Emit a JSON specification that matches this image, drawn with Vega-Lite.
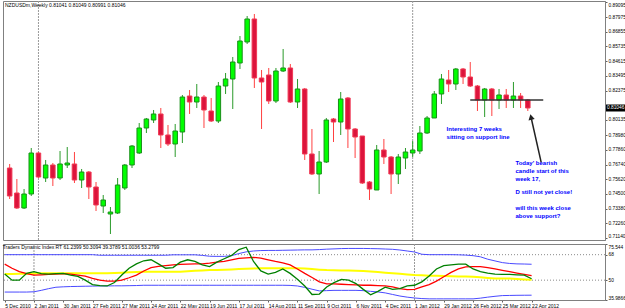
{
  "$schema": "https://vega.github.io/schema/vega-lite/v6.json",
  "padding": 0,
  "spacing": 2,
  "background": "white",
  "config": {
    "font": "Liberation Sans",
    "view": {"stroke": "#808080", "strokeWidth": 1},
    "title": {"font": "Liberation Sans", "fontWeight": "normal", "color": "#000000", "fontSize": 5},
    "axis": {"labelOverlap": false, "labelSeparation": 0, "labelBound": false, "labelFont": "Liberation Sans", "tickCount": 200}
  },
  "resolve": {"scale": {"x": "independent"}},
  "datasets": {
    "candles": [
      {"date": "2010-12-05", "open": 0.76474, "high": 0.76779, "low": 0.74112, "close": 0.74340},
      {"date": "2010-12-12", "open": 0.74569, "high": 0.75636, "low": 0.73350, "close": 0.73426},
      {"date": "2010-12-19", "open": 0.73426, "high": 0.74874, "low": 0.73350, "close": 0.74493},
      {"date": "2010-12-26", "open": 0.74493, "high": 0.77998, "low": 0.74340, "close": 0.77617},
      {"date": "2011-01-02", "open": 0.77617, "high": 0.77693, "low": 0.75712, "close": 0.75788},
      {"date": "2011-01-09", "open": 0.75712, "high": 0.77084, "low": 0.75407, "close": 0.76703},
      {"date": "2011-01-16", "open": 0.76703, "high": 0.76855, "low": 0.75102, "close": 0.75712},
      {"date": "2011-01-23", "open": 0.75712, "high": 0.77769, "low": 0.75560, "close": 0.76779},
      {"date": "2011-01-30", "open": 0.76703, "high": 0.78074, "low": 0.76474, "close": 0.76855},
      {"date": "2011-02-06", "open": 0.76779, "high": 0.77693, "low": 0.75331, "close": 0.75560},
      {"date": "2011-02-13", "open": 0.75560, "high": 0.76398, "low": 0.74950, "close": 0.76169},
      {"date": "2011-02-20", "open": 0.76169, "high": 0.76245, "low": 0.74112, "close": 0.75026},
      {"date": "2011-02-27", "open": 0.75026, "high": 0.75407, "low": 0.73197, "close": 0.73655},
      {"date": "2011-03-06", "open": 0.73578, "high": 0.74417, "low": 0.73045, "close": 0.74036},
      {"date": "2011-03-13", "open": 0.72969, "high": 0.73502, "low": 0.71445, "close": 0.73121},
      {"date": "2011-03-20", "open": 0.73045, "high": 0.75712, "low": 0.72969, "close": 0.75179},
      {"date": "2011-03-27", "open": 0.74950, "high": 0.76779, "low": 0.74798, "close": 0.76703},
      {"date": "2011-04-03", "open": 0.76703, "high": 0.78227, "low": 0.76474, "close": 0.78150},
      {"date": "2011-04-10", "open": 0.77617, "high": 0.79903, "low": 0.77541, "close": 0.79522},
      {"date": "2011-04-17", "open": 0.79522, "high": 0.80284, "low": 0.79141, "close": 0.80208},
      {"date": "2011-04-24", "open": 0.80132, "high": 0.80894, "low": 0.79903, "close": 0.80589},
      {"date": "2011-05-01", "open": 0.80589, "high": 0.81046, "low": 0.77998, "close": 0.78989},
      {"date": "2011-05-08", "open": 0.78989, "high": 0.79751, "low": 0.78150, "close": 0.78303},
      {"date": "2011-05-15", "open": 0.78303, "high": 0.79827, "low": 0.77312, "close": 0.79293},
      {"date": "2011-05-22", "open": 0.79217, "high": 0.82037, "low": 0.78379, "close": 0.81884},
      {"date": "2011-05-29", "open": 0.81960, "high": 0.82418, "low": 0.80589, "close": 0.81503},
      {"date": "2011-06-05", "open": 0.81503, "high": 0.82875, "low": 0.81046, "close": 0.81884},
      {"date": "2011-06-12", "open": 0.81884, "high": 0.82037, "low": 0.79522, "close": 0.80894},
      {"date": "2011-06-19", "open": 0.80817, "high": 0.81808, "low": 0.79979, "close": 0.80055},
      {"date": "2011-06-26", "open": 0.80055, "high": 0.83027, "low": 0.79903, "close": 0.82722},
      {"date": "2011-07-03", "open": 0.82722, "high": 0.83713, "low": 0.82113, "close": 0.83256},
      {"date": "2011-07-10", "open": 0.83256, "high": 0.84932, "low": 0.80970, "close": 0.84551},
      {"date": "2011-07-17", "open": 0.84475, "high": 0.86532, "low": 0.84018, "close": 0.86151},
      {"date": "2011-07-24", "open": 0.86075, "high": 0.88056, "low": 0.85923, "close": 0.87828},
      {"date": "2011-07-31", "open": 0.87828, "high": 0.88209, "low": 0.82570, "close": 0.83332},
      {"date": "2011-08-07", "open": 0.83332, "high": 0.83942, "low": 0.79446, "close": 0.83027},
      {"date": "2011-08-14", "open": 0.83561, "high": 0.84094, "low": 0.81351, "close": 0.81579},
      {"date": "2011-08-21", "open": 0.81579, "high": 0.84094, "low": 0.81427, "close": 0.83865},
      {"date": "2011-08-28", "open": 0.83865, "high": 0.85542, "low": 0.83789, "close": 0.84094},
      {"date": "2011-09-04", "open": 0.84094, "high": 0.84399, "low": 0.81427, "close": 0.81503},
      {"date": "2011-09-11", "open": 0.81503, "high": 0.83256, "low": 0.81046, "close": 0.82494},
      {"date": "2011-09-18", "open": 0.82494, "high": 0.82570, "low": 0.77084, "close": 0.77541},
      {"date": "2011-09-25", "open": 0.77541, "high": 0.79446, "low": 0.75941, "close": 0.76017},
      {"date": "2011-10-02", "open": 0.76017, "high": 0.77769, "low": 0.74493, "close": 0.76931},
      {"date": "2011-10-09", "open": 0.76931, "high": 0.80284, "low": 0.76855, "close": 0.80132},
      {"date": "2011-10-16", "open": 0.80208, "high": 0.80284, "low": 0.78455, "close": 0.79979},
      {"date": "2011-10-23", "open": 0.79979, "high": 0.82265, "low": 0.78989, "close": 0.81732},
      {"date": "2011-10-30", "open": 0.81808, "high": 0.81884, "low": 0.77998, "close": 0.79446},
      {"date": "2011-11-06", "open": 0.79446, "high": 0.79522, "low": 0.77236, "close": 0.78836},
      {"date": "2011-11-13", "open": 0.78912, "high": 0.78912, "low": 0.75255, "close": 0.75331},
      {"date": "2011-11-20", "open": 0.75407, "high": 0.75483, "low": 0.74036, "close": 0.74874},
      {"date": "2011-11-27", "open": 0.74798, "high": 0.78227, "low": 0.74798, "close": 0.77846},
      {"date": "2011-12-04", "open": 0.77846, "high": 0.78684, "low": 0.76779, "close": 0.77312},
      {"date": "2011-12-11", "open": 0.77312, "high": 0.77388, "low": 0.74493, "close": 0.76017},
      {"date": "2011-12-18", "open": 0.76017, "high": 0.77541, "low": 0.75255, "close": 0.77312},
      {"date": "2011-12-25", "open": 0.77236, "high": 0.77998, "low": 0.76398, "close": 0.77693},
      {"date": "2012-01-01", "open": 0.77617, "high": 0.78531, "low": 0.77312, "close": 0.77846},
      {"date": "2012-01-08", "open": 0.77769, "high": 0.79674, "low": 0.77541, "close": 0.79141},
      {"date": "2012-01-15", "open": 0.79141, "high": 0.80436, "low": 0.79065, "close": 0.80284},
      {"date": "2012-01-22", "open": 0.80284, "high": 0.82341, "low": 0.80284, "close": 0.82113},
      {"date": "2012-01-29", "open": 0.82113, "high": 0.83637, "low": 0.81351, "close": 0.83256},
      {"date": "2012-02-05", "open": 0.83180, "high": 0.83942, "low": 0.82265, "close": 0.82875},
      {"date": "2012-02-12", "open": 0.82875, "high": 0.84094, "low": 0.82418, "close": 0.84018},
      {"date": "2012-02-19", "open": 0.84018, "high": 0.84094, "low": 0.82875, "close": 0.83408},
      {"date": "2012-02-26", "open": 0.83408, "high": 0.84551, "low": 0.82646, "close": 0.82722},
      {"date": "2012-03-04", "open": 0.82722, "high": 0.82799, "low": 0.80817, "close": 0.81656},
      {"date": "2012-03-11", "open": 0.81656, "high": 0.82570, "low": 0.80360, "close": 0.82494},
      {"date": "2012-03-18", "open": 0.82494, "high": 0.82570, "low": 0.80436, "close": 0.81656},
      {"date": "2012-03-25", "open": 0.81656, "high": 0.82494, "low": 0.80970, "close": 0.82037},
      {"date": "2012-04-01", "open": 0.82037, "high": 0.82494, "low": 0.81046, "close": 0.81656},
      {"date": "2012-04-08", "open": 0.81656, "high": 0.83027, "low": 0.81046, "close": 0.81960},
      {"date": "2012-04-15", "open": 0.81960, "high": 0.82189, "low": 0.81046, "close": 0.81656},
      {"date": "2012-04-22", "open": 0.81656, "high": 0.81732, "low": 0.80817, "close": 0.81046}
    ],
    "tdi": [
      {"date": "2010-12-05", "up": 68.0, "mid": 54.3, "low": 41.6, "rsi": 54.3, "sig": 61.3},
      {"date": "2010-12-12", "up": 68.0, "mid": 54.4, "low": 41.6, "rsi": 50.0, "sig": 58.4},
      {"date": "2010-12-19", "up": 68.0, "mid": 54.5, "low": 41.6, "rsi": 50.0, "sig": 56.0},
      {"date": "2010-12-26", "up": 68.0, "mid": 54.6, "low": 41.6, "rsi": 54.8, "sig": 54.6},
      {"date": "2011-01-02", "up": 68.0, "mid": 54.7, "low": 41.8, "rsi": 56.0, "sig": 53.6},
      {"date": "2011-01-09", "up": 68.0, "mid": 54.8, "low": 42.8, "rsi": 54.6, "sig": 53.8},
      {"date": "2011-01-16", "up": 68.0, "mid": 54.8, "low": 44.0, "rsi": 54.3, "sig": 54.1},
      {"date": "2011-01-23", "up": 68.0, "mid": 54.8, "low": 45.0, "rsi": 54.6, "sig": 54.3},
      {"date": "2011-01-30", "up": 68.0, "mid": 54.8, "low": 45.3, "rsi": 54.8, "sig": 54.6},
      {"date": "2011-02-06", "up": 68.0, "mid": 54.8, "low": 45.5, "rsi": 53.6, "sig": 54.3},
      {"date": "2011-02-13", "up": 68.0, "mid": 54.8, "low": 45.6, "rsi": 52.6, "sig": 53.6},
      {"date": "2011-02-20", "up": 68.0, "mid": 54.8, "low": 45.7, "rsi": 50.0, "sig": 52.9},
      {"date": "2011-02-27", "up": 68.0, "mid": 54.8, "low": 45.8, "rsi": 46.9, "sig": 51.2},
      {"date": "2011-03-06", "up": 67.6, "mid": 54.8, "low": 45.9, "rsi": 46.2, "sig": 50.0},
      {"date": "2011-03-13", "up": 67.6, "mid": 54.8, "low": 45.9, "rsi": 45.9, "sig": 49.3},
      {"date": "2011-03-20", "up": 67.6, "mid": 55.0, "low": 46.0, "rsi": 48.3, "sig": 49.3},
      {"date": "2011-03-27", "up": 67.6, "mid": 55.3, "low": 46.0, "rsi": 53.6, "sig": 50.0},
      {"date": "2011-04-03", "up": 67.6, "mid": 55.6, "low": 46.1, "rsi": 58.4, "sig": 51.7},
      {"date": "2011-04-10", "up": 67.6, "mid": 55.8, "low": 46.2, "rsi": 61.5, "sig": 53.6},
      {"date": "2011-04-17", "up": 67.6, "mid": 56.0, "low": 46.4, "rsi": 63.7, "sig": 56.5},
      {"date": "2011-04-24", "up": 67.6, "mid": 56.0, "low": 46.4, "rsi": 64.4, "sig": 58.9},
      {"date": "2011-05-01", "up": 67.6, "mid": 56.0, "low": 46.4, "rsi": 61.5, "sig": 59.8},
      {"date": "2011-05-08", "up": 67.6, "mid": 56.0, "low": 46.4, "rsi": 58.4, "sig": 60.3},
      {"date": "2011-05-15", "up": 67.9, "mid": 56.0, "low": 46.4, "rsi": 58.9, "sig": 60.8},
      {"date": "2011-05-22", "up": 67.9, "mid": 56.0, "low": 46.4, "rsi": 62.7, "sig": 61.1},
      {"date": "2011-05-29", "up": 67.9, "mid": 56.3, "low": 46.4, "rsi": 64.4, "sig": 61.3},
      {"date": "2011-06-05", "up": 67.9, "mid": 56.6, "low": 46.4, "rsi": 63.2, "sig": 61.5},
      {"date": "2011-06-12", "up": 67.5, "mid": 56.9, "low": 46.4, "rsi": 60.8, "sig": 61.5},
      {"date": "2011-06-19", "up": 66.9, "mid": 57.1, "low": 46.4, "rsi": 59.6, "sig": 62.0},
      {"date": "2011-06-26", "up": 66.8, "mid": 57.2, "low": 46.4, "rsi": 62.7, "sig": 62.7},
      {"date": "2011-07-03", "up": 66.8, "mid": 57.3, "low": 46.4, "rsi": 65.1, "sig": 63.2},
      {"date": "2011-07-10", "up": 67.3, "mid": 57.5, "low": 46.4, "rsi": 67.5, "sig": 64.4},
      {"date": "2011-07-17", "up": 68.8, "mid": 57.8, "low": 46.4, "rsi": 71.6, "sig": 65.4},
      {"date": "2011-07-24", "up": 70.0, "mid": 58.1, "low": 46.4, "rsi": 73.3, "sig": 65.8},
      {"date": "2011-07-31", "up": 70.6, "mid": 58.3, "low": 46.4, "rsi": 63.2, "sig": 66.1},
      {"date": "2011-08-07", "up": 70.9, "mid": 58.4, "low": 46.4, "rsi": 56.5, "sig": 65.6},
      {"date": "2011-08-14", "up": 71.0, "mid": 58.4, "low": 46.4, "rsi": 54.3, "sig": 64.4},
      {"date": "2011-08-21", "up": 71.0, "mid": 58.4, "low": 46.4, "rsi": 55.5, "sig": 63.2},
      {"date": "2011-08-28", "up": 71.1, "mid": 58.4, "low": 46.4, "rsi": 57.9, "sig": 62.2},
      {"date": "2011-09-04", "up": 71.2, "mid": 58.4, "low": 46.3, "rsi": 54.8, "sig": 60.8},
      {"date": "2011-09-11", "up": 71.3, "mid": 58.4, "low": 45.9, "rsi": 50.7, "sig": 57.9},
      {"date": "2011-09-18", "up": 71.4, "mid": 58.2, "low": 44.9, "rsi": 45.9, "sig": 54.8},
      {"date": "2011-09-25", "up": 71.4, "mid": 57.8, "low": 43.6, "rsi": 39.9, "sig": 51.9},
      {"date": "2011-10-02", "up": 71.6, "mid": 57.4, "low": 42.4, "rsi": 40.2, "sig": 48.8},
      {"date": "2011-10-09", "up": 71.9, "mid": 57.1, "low": 42.6, "rsi": 45.2, "sig": 47.4},
      {"date": "2011-10-16", "up": 72.1, "mid": 57.0, "low": 42.8, "rsi": 48.3, "sig": 47.4},
      {"date": "2011-10-23", "up": 72.3, "mid": 56.9, "low": 42.8, "rsi": 50.5, "sig": 47.1},
      {"date": "2011-10-30", "up": 72.4, "mid": 56.8, "low": 42.8, "rsi": 50.0, "sig": 46.9},
      {"date": "2011-11-06", "up": 72.4, "mid": 56.7, "low": 42.8, "rsi": 47.6, "sig": 46.6},
      {"date": "2011-11-13", "up": 72.4, "mid": 56.5, "low": 42.6, "rsi": 43.5, "sig": 46.4},
      {"date": "2011-11-20", "up": 72.3, "mid": 56.1, "low": 42.1, "rsi": 39.7, "sig": 46.4},
      {"date": "2011-11-27", "up": 72.2, "mid": 55.7, "low": 41.7, "rsi": 42.1, "sig": 46.2},
      {"date": "2011-12-04", "up": 72.0, "mid": 55.3, "low": 41.0, "rsi": 45.0, "sig": 45.9},
      {"date": "2011-12-11", "up": 71.8, "mid": 54.9, "low": 39.9, "rsi": 43.5, "sig": 45.2},
      {"date": "2011-12-18", "up": 71.3, "mid": 54.5, "low": 38.8, "rsi": 44.0, "sig": 44.0},
      {"date": "2011-12-25", "up": 70.6, "mid": 54.0, "low": 38.0, "rsi": 45.9, "sig": 43.3},
      {"date": "2012-01-01", "up": 69.9, "mid": 53.6, "low": 37.4, "rsi": 46.4, "sig": 43.5},
      {"date": "2012-01-08", "up": 68.3, "mid": 53.4, "low": 37.0, "rsi": 48.8, "sig": 45.2},
      {"date": "2012-01-15", "up": 68.0, "mid": 53.2, "low": 36.8, "rsi": 52.9, "sig": 46.9},
      {"date": "2012-01-22", "up": 68.0, "mid": 53.1, "low": 36.8, "rsi": 57.9, "sig": 49.3},
      {"date": "2012-01-29", "up": 68.0, "mid": 52.9, "low": 36.8, "rsi": 60.3, "sig": 52.4},
      {"date": "2012-02-05", "up": 68.0, "mid": 52.8, "low": 36.8, "rsi": 60.8, "sig": 55.5},
      {"date": "2012-02-12", "up": 67.9, "mid": 52.6, "low": 36.8, "rsi": 61.3, "sig": 57.9},
      {"date": "2012-02-19", "up": 67.7, "mid": 52.5, "low": 36.8, "rsi": 61.3, "sig": 59.4},
      {"date": "2012-02-26", "up": 67.3, "mid": 52.4, "low": 36.8, "rsi": 57.9, "sig": 59.6},
      {"date": "2012-03-04", "up": 66.5, "mid": 52.0, "low": 37.3, "rsi": 56.0, "sig": 59.6},
      {"date": "2012-03-11", "up": 64.8, "mid": 51.6, "low": 38.0, "rsi": 55.0, "sig": 58.9},
      {"date": "2012-03-18", "up": 63.6, "mid": 51.2, "low": 38.6, "rsi": 54.3, "sig": 57.9},
      {"date": "2012-03-25", "up": 62.4, "mid": 51.2, "low": 39.1, "rsi": 54.1, "sig": 56.9},
      {"date": "2012-04-01", "up": 61.8, "mid": 51.1, "low": 39.2, "rsi": 54.1, "sig": 56.0},
      {"date": "2012-04-08", "up": 61.5, "mid": 50.8, "low": 39.3, "rsi": 53.8, "sig": 55.0},
      {"date": "2012-04-15", "up": 61.4, "mid": 50.5, "low": 39.35, "rsi": 53.6, "sig": 54.1},
      {"date": "2012-04-22", "up": 61.24, "mid": 50.31, "low": 39.38, "rsi": 51.0, "sig": 53.28}
    ],
    "separators": [{"date": "2011-01-02"}, {"date": "2012-01-01"}]
  },
  "vconcat": [
    {
      "width": 602,
      "height": 239,
      "title": {"text": "NZDUSDm,Weekly  0.81041 0.81049 0.80991 0.81046", "anchor": "start", "offset": -7, "dx": 2, "fontSize": 5},
      "layer": [
        {
          "data": {"name": "separators"},
          "mark": {"type": "rule", "strokeDash": [2, 1], "color": "#9a9a9a", "strokeWidth": 1},
          "encoding": {
            "x": {"field": "date", "type": "temporal", "axis": null,
                  "scale": {"type": "utc", "domain": [{"year": 2010, "month": 12, "date": 3, "hours": 9, "utc": true}, {"year": 2012, "month": 7, "date": 1, "hours": 5, "utc": true}]}}
          }
        },
        {
          "data": {"name": "candles"},
          "mark": {"type": "rule", "strokeWidth": 1},
          "encoding": {
            "x": {"field": "date", "type": "temporal"},
            "y": {"field": "low", "type": "quantitative",
                  "scale": {"domain": [0.70988, 0.89199], "nice": false, "zero": false},
                  "axis": {"orient": "right", "title": null, "grid": false, "format": ".5f", "tickCount": 200,
                           "values": [0.7114, 0.7226, 0.7338, 0.745, 0.7562, 0.7674, 0.7786, 0.7898, 0.80135, 0.82375, 0.83495, 0.84615, 0.85735, 0.86855, 0.87975, 0.89095],
                           "labelFontSize": 4.8, "labelColor": "#000000", "labelPadding": 1, "tickSize": 2, "tickColor": "#606060",
                           "domainColor": "#808080", "labelFlush": 3, "labelOverlap": false}},
            "y2": {"field": "high"},
            "color": {"condition": {"test": "datum.close > datum.open", "value": "#2a9a2a"}, "value": "#ff4040"}
          }
        },
        {
          "data": {"name": "candles"},
          "mark": {"type": "bar", "size": 4.5, "strokeWidth": 1},
          "encoding": {
            "x": {"field": "date", "type": "temporal"},
            "y": {"field": "open", "type": "quantitative"},
            "y2": {"field": "close"},
            "fill": {"condition": {"test": "datum.close > datum.open", "value": "#00ff00"}, "value": "#dc143c"},
            "stroke": {"condition": {"test": "datum.close > datum.open", "value": "#1a8f1a"}, "value": "#f03a55"}
          }
        },
        {
          "data": {"values": [{"date": "2012-02-26", "price": 0.81656}, {"date": "2012-05-07", "price": 0.81656}]},
          "mark": {"type": "line", "color": "#333333", "strokeWidth": 1.5},
          "encoding": {
            "x": {"field": "date", "type": "temporal"},
            "y": {"field": "price", "type": "quantitative"}
          }
        },
        {
          "data": {"values": [{"from": "2012-05-05T00:00:00Z", "pfrom": 0.76907, "to": "2012-04-25T02:00:00Z", "pto": 0.8036}]},
          "mark": {"type": "rule", "color": "#222222", "strokeWidth": 1.5},
          "encoding": {
            "x": {"field": "from", "type": "temporal"},
            "x2": {"field": "to"},
            "y": {"field": "pfrom", "type": "quantitative"},
            "y2": {"field": "pto"}
          }
        },
        {
          "data": {"values": [{"date": "2012-04-25T02:00:00Z", "price": 0.8036}]},
          "mark": {"type": "point", "shape": "triangle-up", "filled": true, "color": "#222222", "size": 40, "angle": 347, "opacity": 1},
          "encoding": {
            "x": {"field": "date", "type": "temporal"},
            "y": {"field": "price", "type": "quantitative"}
          }
        },
        {
          "data": {"values": [
            {"date": "2012-02-03", "price": 0.79674, "note": ["Interesting 7 weeks", "sitting on support line"]},
            {"date": "2012-04-10", "price": 0.7708, "note": ["Today' bearish", "candle start of this", "week 17,"]},
            {"date": "2012-04-10", "price": 0.74874, "note": ["D still not yet close!"]},
            {"date": "2012-04-10", "price": 0.73655, "note": ["will this week close", "above support?"]}
          ]},
          "mark": {"type": "text", "align": "left", "baseline": "top", "fontSize": 6, "fontWeight": "bold", "color": "#0000ff", "lineHeight": 7.8, "font": "Liberation Sans"},
          "encoding": {
            "x": {"field": "date", "type": "temporal"},
            "y": {"field": "price", "type": "quantitative"},
            "text": {"field": "note"}
          }
        },
        {
          "data": {"values": [{"price": 0.81046}]},
          "mark": {"type": "tick", "orient": "horizontal", "size": 22, "thickness": 7, "color": "#000000", "opacity": 1, "xOffset": 12},
          "encoding": {
            "x": {"value": "width"},
            "y": {"field": "price", "type": "quantitative"}
          }
        },
        {
          "data": {"values": [{"price": 0.81046}]},
          "mark": {"type": "text", "align": "left", "baseline": "middle", "dx": 2, "fontSize": 4.8, "color": "#ffffff"},
          "encoding": {
            "x": {"value": "width"},
            "y": {"field": "price", "type": "quantitative"},
            "text": {"field": "price", "type": "quantitative", "format": ".5f"}
          }
        }
      ]
    },
    {
      "width": 602,
      "height": 56,
      "title": {"text": "Traders Dynamic Index RT 61.2399 50.3094 39.3789 51.0036 53.2799", "anchor": "start", "offset": -6, "dx": 2, "fontSize": 5},
      "layer": [
        {
          "data": {"values": [{"level": 68}, {"level": 50}]},
          "mark": {"type": "rule", "strokeDash": [1, 2], "color": "#8a8a8a", "strokeWidth": 1},
          "encoding": {
            "y": {"field": "level", "type": "quantitative",
                  "scale": {"domain": [35.9866, 75.544], "nice": false, "zero": false},
                  "axis": {"orient": "right", "title": null, "grid": false, "values": [75.544, 68, 50, 35.9866], "tickCount": 200,
                           "labelExpr": "'' + datum.value",
                           "labelFontSize": 4.8, "labelColor": "#000000", "labelPadding": 1, "tickSize": 2, "tickColor": "#606060",
                           "domainColor": "#808080", "labelFlush": true, "labelOverlap": false}}
          }
        },
        {
          "data": {"name": "separators"},
          "mark": {"type": "rule", "strokeDash": [2, 1], "color": "#9a9a9a", "strokeWidth": 1},
          "encoding": {
            "x": {"field": "date", "type": "temporal",
                  "scale": {"type": "utc", "domain": [{"year": 2010, "month": 12, "date": 3, "hours": 9, "utc": true}, {"year": 2012, "month": 7, "date": 1, "hours": 5, "utc": true}]},
                  "axis": {"title": null, "grid": false, "format": "%-d %b %Y", "labelAlign": "left", "labelFontSize": 5, "labelColor": "#000000",
                           "labelPadding": 1, "tickSize": 2, "tickColor": "#606060", "domainColor": "#808080", "labelFlush": false, "labelOverlap": false, "tickCount": 200,
                           "values": [
                             {"year": 2010, "month": 12, "date": 5, "utc": true},
                             {"year": 2011, "month": 1, "date": 2, "utc": true},
                             {"year": 2011, "month": 1, "date": 30, "utc": true},
                             {"year": 2011, "month": 2, "date": 27, "utc": true},
                             {"year": 2011, "month": 3, "date": 27, "utc": true},
                             {"year": 2011, "month": 4, "date": 24, "utc": true},
                             {"year": 2011, "month": 5, "date": 22, "utc": true},
                             {"year": 2011, "month": 6, "date": 19, "utc": true},
                             {"year": 2011, "month": 7, "date": 17, "utc": true},
                             {"year": 2011, "month": 8, "date": 14, "utc": true},
                             {"year": 2011, "month": 9, "date": 11, "utc": true},
                             {"year": 2011, "month": 10, "date": 9, "utc": true},
                             {"year": 2011, "month": 11, "date": 6, "utc": true},
                             {"year": 2011, "month": 12, "date": 4, "utc": true},
                             {"year": 2012, "month": 1, "date": 1, "utc": true},
                             {"year": 2012, "month": 1, "date": 29, "utc": true},
                             {"year": 2012, "month": 2, "date": 26, "utc": true},
                             {"year": 2012, "month": 3, "date": 25, "utc": true},
                             {"year": 2012, "month": 4, "date": 22, "utc": true}
                           ]}}
          }
        },
        {
          "data": {"name": "tdi"},
          "mark": {"type": "line", "color": "#ffff00", "strokeWidth": 2},
          "encoding": {"x": {"field": "date", "type": "temporal"}, "y": {"field": "mid", "type": "quantitative"}}
        },
        {
          "data": {"name": "tdi"},
          "mark": {"type": "line", "color": "#4a4aff", "strokeWidth": 1},
          "encoding": {"x": {"field": "date", "type": "temporal"}, "y": {"field": "up", "type": "quantitative"}}
        },
        {
          "data": {"name": "tdi"},
          "mark": {"type": "line", "color": "#4a4aff", "strokeWidth": 1},
          "encoding": {"x": {"field": "date", "type": "temporal"}, "y": {"field": "low", "type": "quantitative"}}
        },
        {
          "data": {"name": "tdi"},
          "mark": {"type": "line", "color": "#ff0000", "strokeWidth": 1.3},
          "encoding": {"x": {"field": "date", "type": "temporal"}, "y": {"field": "sig", "type": "quantitative"}}
        },
        {
          "data": {"name": "tdi"},
          "mark": {"type": "line", "color": "#008000", "strokeWidth": 1.3},
          "encoding": {"x": {"field": "date", "type": "temporal"}, "y": {"field": "rsi", "type": "quantitative"}}
        }
      ]
    }
  ]
}
